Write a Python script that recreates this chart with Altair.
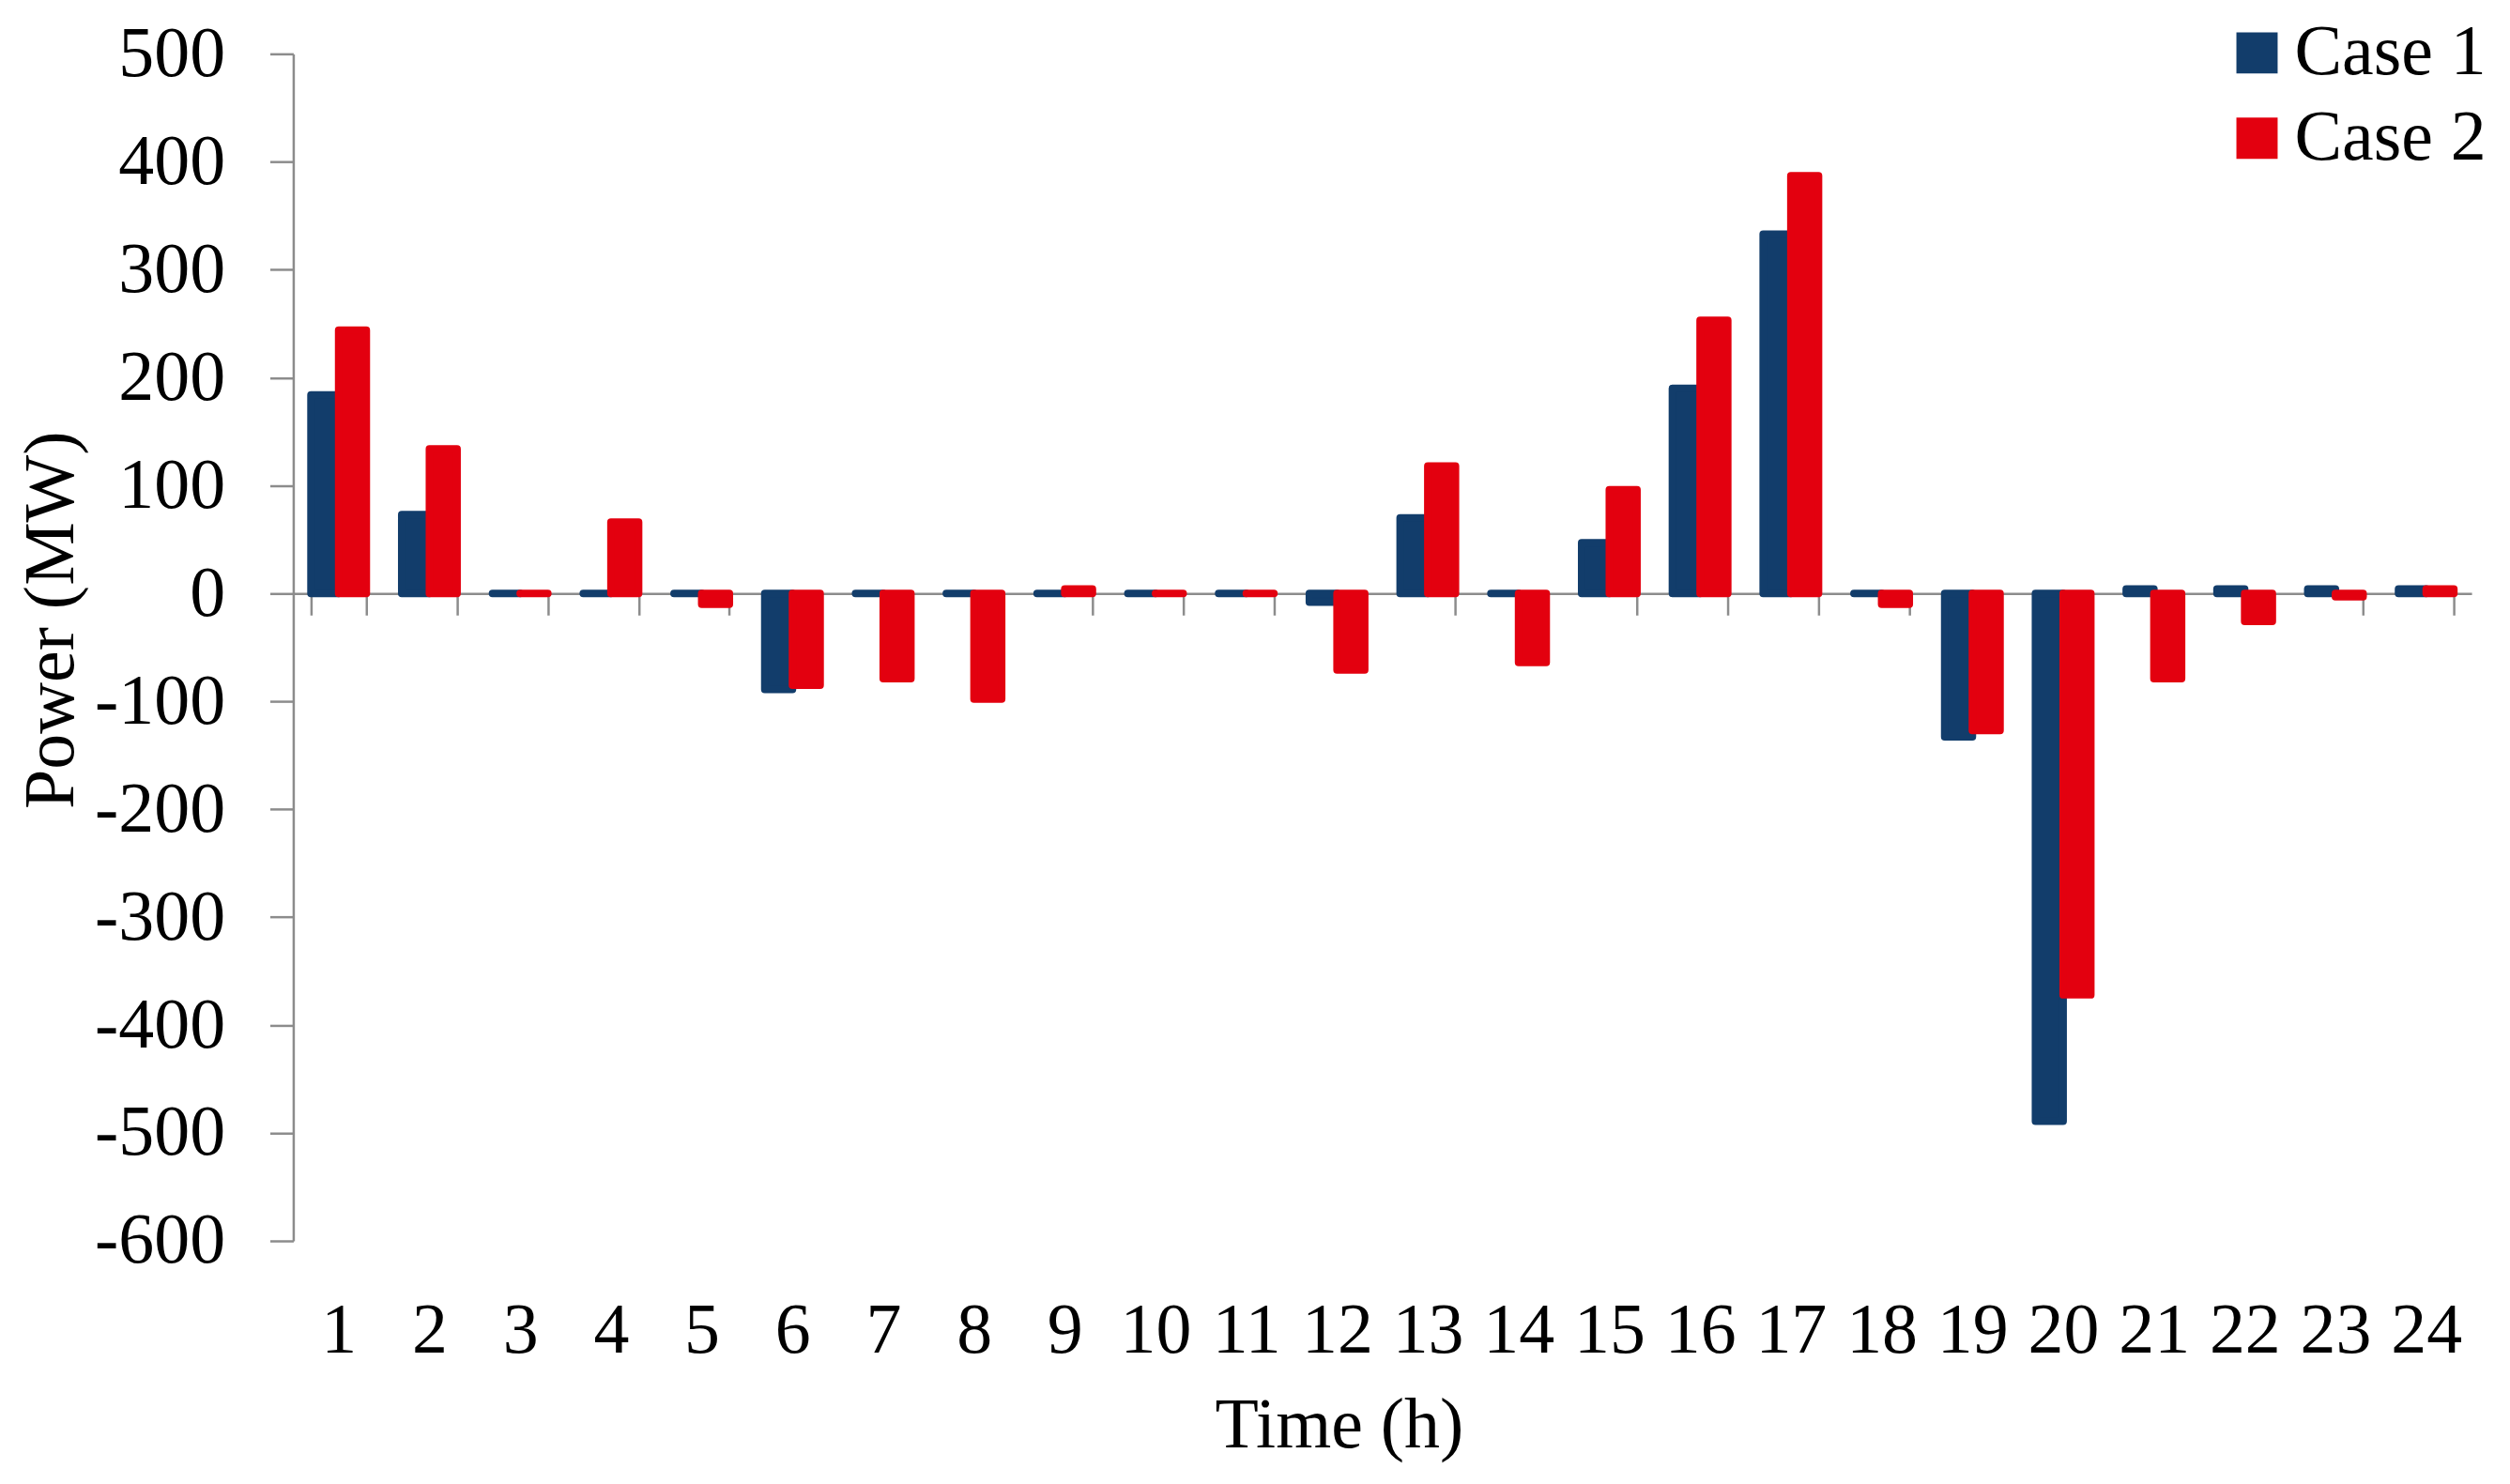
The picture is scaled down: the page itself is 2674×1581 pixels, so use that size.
import altair as alt
import pandas as pd

# ---- data ----
hours = [str(h) for h in range(1, 25)]
series = ["Case 1", "Case 2"]
case1 = [184, 73, 0, 0, 0, -89, 0, 0, 0, 0, 0, -8, 70, 0, 47, 190, 333, 0, -133, -489, 4, 4, 4, 4]
case2 = [244, 134, 0, 66, -10, -85, -79, -98, 4, 0, 0, -71, 118, -64, 96, 253, 387, -10, -127, -372, -79, -26, -3, 4]
y_ticks = list(range(-600, 501, 100))

colors = ["#123D6B", "#E3000F"]
FONT = "Liberation Serif"
AXIS_GREY = "#8C8C8C"

rows = []
for s, vals in zip(series, [case1, case2]):
    for h, v in zip(hours, vals):
        rows.append({"Time": h, "Case": s, "Power": v})
df = pd.DataFrame(rows)

bars = alt.Chart(df).mark_bar(strokeWidth=8, strokeJoin="round").encode(
    x=alt.X(
        "Time:N",
        sort=hours,
        scale=alt.Scale(paddingInner=0.39, paddingOuter=0.195),
        axis=alt.Axis(
            title="Time (h)",
            orient="bottom",
            offset=-691,
            labelAngle=0,
            labelFont=FONT,
            labelFontSize=76,
            labelColor="black",
            labelBaseline="alphabetic",
            labelPadding=787,
            labelOverlap=False,
            tickSize=23,
            tickColor=AXIS_GREY,
            tickWidth=2.5,
            tickBand="extent",
            domainColor=AXIS_GREY,
            domainWidth=2.5,
            titleFont=FONT,
            titleFontSize=76,
            titleFontWeight="normal",
            titleColor="black",
            titleX=1116,
            titleY=911,
            titleAlign="center",
            titleBaseline="alphabetic",
        ),
    ),
    xOffset=alt.XOffset("Case:N", sort=series),
    y=alt.Y(
        "Power:Q",
        scale=alt.Scale(domain=[-600, 500], nice=False),
        axis=alt.Axis(
            title="Power (MW)",
            values=y_ticks,
            labelExpr="'' + datum.value",
            grid=False,
            labelFont=FONT,
            labelFontSize=76,
            labelColor="black",
            labelPadding=48,
            tickSize=25,
            tickColor=AXIS_GREY,
            tickWidth=2.5,
            domainColor=AXIS_GREY,
            domainWidth=2.5,
            titleFont=FONT,
            titleFontSize=76,
            titleFontWeight="normal",
            titleColor="black",
            titleAngle=270,
            titleX=-235,
            titleY=604,
            titleAlign="center",
            titleBaseline="alphabetic",
        ),
    ),
    color=alt.Color(
        "Case:N",
        scale=alt.Scale(domain=series, range=colors),
        legend=alt.Legend(
            title=None,
            orient="none",
            legendX=2058,
            legendY=-39,
            padding=0,
            symbolType="square",
            symbolSize=1936,
            symbolStrokeWidth=0,
            labelFont=FONT,
            labelFontSize=76,
            labelColor="black",
            labelLimit=0,
            labelOffset=2,
            rowPadding=15,
        ),
    ),
    stroke=alt.Stroke("Case:N", scale=alt.Scale(domain=series, range=colors), legend=None),
    order=alt.Order("Case:N"),
)

chart = bars.properties(
    width=2325,
    height=1267,
    autosize=alt.AutoSizeParams(type="none"),
    padding={"left": 305, "top": 48, "right": 33, "bottom": 250},
    background="white",
).configure_view(stroke=None)

chart.save("out.html", embed_options={"renderer": "svg", "actions": False})
